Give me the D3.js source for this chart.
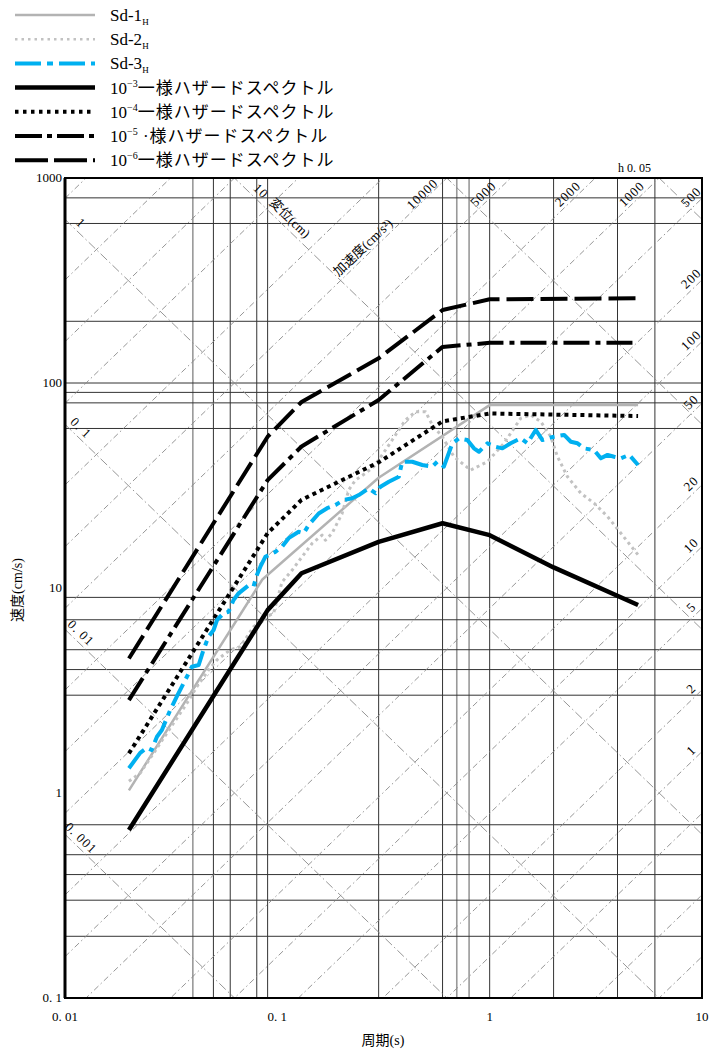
<!DOCTYPE html>
<html>
<head>
<meta charset="utf-8">
<script src="https://cdn.jsdelivr.net/npm/d3@7"></script>
<style>
    body { margin: 0; background: #fff; }
    text { font-family: "Liberation Serif", "Noto Sans CJK JP", serif; fill: #000; }
</style>
</head>
<body>
<svg id="chart" width="713" height="1050"></svg>
<script>
// axis ticks
var periodTicks = [0.01, 0.1, 1, 10],
    periodTickLabels = ["0. 01", "0. 1", "1", "10"],
    velTicks = [0.1, 1, 10, 100, 1000],
    velTickLabels = ["0. 1", "1", "10", "100", "1000"];

// grid lines of the sheet
var periodGrid = [0.05, 0.06, 0.08, 0.09, 0.3, 0.6, 1, 2, 4, 6],
    periodGridGray = [0.04, 0.7, 0.8],
    velGrid = [0.2, 0.3, 0.4, 0.5, 0.7, 3, 4, 5, 7, 9, 60, 80, 90, 100, 200, 600, 800],
    dispLines = [0.0001, 0.001, 0.01, 0.1, 1, 10, 100, 1000],
    accLines = [0.05, 0.1, 0.2, 0.5, 1, 2, 5, 10, 20, 50, 100, 200, 500, 1000, 2000, 5000,
                10000, 20000, 50000, 100000, 200000, 500000],
    dispLabels = [1, 0.1, 0.01, 0.001],
    dispLabelText = ["1", "0. 1", "0. 01", "0. 001"],
    accTopLabels = [10000, 5000, 2000, 1000],
    accRightLabels = [500, 200, 100, 50, 20, 10, 5, 2, 1];

// Sd-1H
var sd1T = [0.02, 0.085, 0.3, 1.0, 5.0],
    sd1V = [1.03, 11.0, 34.5, 78, 78];

// Sd-2H
var sd2T = [0.02, 0.0226, 0.0261, 0.0302, 0.0349, 0.0375, 0.0418, 0.0474, 0.052, 0.06, 0.0669,
            0.0773, 0.0894, 0.096, 0.1052, 0.1173, 0.1308, 0.1458, 0.1625, 0.1684, 0.1811, 0.2019,
            0.2169, 0.2333, 0.2601, 0.2847, 0.3118, 0.3475, 0.3734, 0.4017, 0.4477, 0.4991, 0.5366,
            0.5984, 0.6784, 0.8136, 0.9754, 1.168, 1.40, 1.561, 1.740, 1.940, 2.086, 2.326, 2.687,
            3.105, 3.592, 4.149, 5.0],
    sd2V = [1.14, 1.25, 1.56, 1.96, 2.45, 2.74, 3.30, 3.98, 4.46, 4.99, 5.17,
            6.48, 7.25, 7.53, 10.7, 12.2, 14.2, 16.5, 18.1, 17.1, 18.5, 23.1,
            30.1, 33.6, 36.3, 39.1, 44.6, 52.7, 59.0, 66.0, 72.4, 72.4, 62.4,
            54.7, 43.7, 37.6, 41.3, 50.8, 67.3, 69.8, 64.8, 54.7, 43.7, 34.9, 29.0,
            25.9, 22.3, 18.5, 14.5];

// Sd-3H
var sd3T = [0.02, 0.0226, 0.0243, 0.0256, 0.0271, 0.0286, 0.0313, 0.0336, 0.0375, 0.0396, 0.0426,
            0.0449, 0.0474, 0.0501, 0.052, 0.0558, 0.0589, 0.0622, 0.0657, 0.0732, 0.0773, 0.0802,
            0.0832, 0.0878, 0.0978, 0.1052, 0.113, 0.126, 0.1331, 0.1405, 0.1566, 0.1716, 0.1878,
            0.2055, 0.2251, 0.2418, 0.2696, 0.29, 0.3061, 0.335, 0.3734, 0.3874, 0.432, 0.4815,
            0.5366, 0.5667, 0.6087, 0.6671, 0.7164, 0.785, 0.8433, 0.8905, 0.9754, 1.067, 1.148,
            1.256, 1.40, 1.506, 1.648, 1.773, 1.872, 2.011, 2.242, 2.411, 2.593, 2.785, 3.105,
            3.339, 3.592, 3.857, 4.149, 4.541, 5.0],
    sd3V = [1.32, 1.57, 1.66, 1.62, 1.88, 2.03, 2.54, 2.95, 3.69, 4.13, 4.21,
            4.99, 5.79, 6.24, 6.98, 7.53, 7.66, 8.74, 9.42, 10.3, 10.2, 11.6,
            12.7, 14.2, 15.0, 15.9, 17.5, 18.8, 18.5, 20.3, 23.1, 24.5, 25.4,
            26.9, 27.4, 28.4, 30.6, 29.0, 31.2, 33.0, 34.9, 41.3, 41.3, 39.8,
            39.1, 41.3, 39.1, 50.8, 53.7, 52.7, 48.0, 46.2, 50.8, 48.9, 48.0,
            50.8, 53.7, 50.8, 59.0, 52.7, 53.7, 54.7, 55.8, 51.7, 50.8, 48.0, 47.1,
            42.9, 44.6, 43.7, 42.9, 44.6, 39.8];

// uniform hazard spectra
var haz3T = [0.02, 0.09, 0.13, 0.3, 0.6, 1.0, 2.0, 5.0],
    haz3V = [0.66, 7.8, 11.8, 16.8, 20.7, 18.1, 12.6, 8.26],
    haz4T = [0.02, 0.09, 0.13, 0.3, 0.6, 1.0, 5.0],
    haz4V = [1.56, 18.5, 26.9, 41, 65, 71, 69],
    haz5T = [0.02, 0.09, 0.13, 0.3, 0.6, 1.0, 5.0],
    haz5V = [2.84, 33.6, 49, 82.6, 150, 157, 157],
    haz6T = [0.02, 0.09, 0.13, 0.3, 0.6, 1.0, 5.0],
    haz6V = [4.53, 54.7, 80.8, 132, 227, 256, 259];

var svg = d3.select("#chart"),
    TWO_PI = 2 * Math.PI,
    x = d3.scaleLog().domain([0.01, 10]).range([65, 702]),
    y = d3.scaleLog().domain([0.1, 1000]).range([998, 178]),
    ang = Math.atan((y(1) - y(10)) / (x(1) - x(0.1))) * 180 / Math.PI;

var zip = function(ts, vs) {
    return ts.map(function(t, i) { return [t, vs[i]]; });
};

var line = d3.line()
    .x(function(d) { return x(d[0]); })
    .y(function(d) { return y(d[1]); });

svg.append("defs").append("clipPath").attr("id", "plotClip")
    .append("rect")
        .attr("x", x(0.01)).attr("y", y(1000))
        .attr("width", x(10) - x(0.01)).attr("height", y(0.1) - y(1000));

// rectangular grid
var grid = svg.append("g");

grid.selectAll(".vg").data(periodGrid).enter().append("line")
    .attr("x1", function(d) { return x(d); }).attr("x2", function(d) { return x(d); })
    .attr("y1", y(1000)).attr("y2", y(0.1))
    .attr("stroke", "#333").attr("stroke-width", 1);

grid.selectAll(".vgg").data(periodGridGray).enter().append("line")
    .attr("x1", function(d) { return x(d); }).attr("x2", function(d) { return x(d); })
    .attr("y1", y(1000)).attr("y2", y(0.1))
    .attr("stroke", "#999").attr("stroke-width", 1.6);

grid.selectAll(".hg").data(velGrid).enter().append("line")
    .attr("x1", x(0.01)).attr("x2", x(10))
    .attr("y1", function(d) { return y(d); }).attr("y2", function(d) { return y(d); })
    .attr("stroke", "#333").attr("stroke-width", 1);

// tripartite diagonals: displacement (cm) and acceleration (cm/s2)
var diag = svg.append("g").attr("clip-path", "url(#plotClip)");

diag.selectAll(".dl").data(dispLines).enter().append("path")
    .attr("d", function(D) { return line([[0.01, TWO_PI * D / 0.01], [10, TWO_PI * D / 10]]); })
    .attr("fill", "none").attr("stroke", "#8a8a8a").attr("stroke-width", 0.9)
    .attr("stroke-dasharray", "9,3,1.5,3");

diag.selectAll(".al").data(accLines).enter().append("path")
    .attr("d", function(A) { return line([[0.01, A * 0.01 / TWO_PI], [10, A * 10 / TWO_PI]]); })
    .attr("fill", "none").attr("stroke", "#8a8a8a").attr("stroke-width", 0.9)
    .attr("stroke-dasharray", "6,3,1.5,3");

// diagonal labels
var diagLabel = function(px, py, rot, txt, anchor) {
    return svg.append("text")
        .attr("transform", "translate(" + px + "," + py + ") rotate(" + rot + ")")
        .attr("text-anchor", anchor || "middle")
        .attr("dominant-baseline", "middle")
        .attr("font-size", 13)
        .attr("letter-spacing", 1)
        .text(txt);
};

var xL = 80;
dispLabels.forEach(function(D, i) {
    var t = x.invert(xL);
    diagLabel(xL, y(TWO_PI * D / t) - 10, ang, dispLabelText[i]);
});

(function() {
    var yy = 192, v = y.invert(yy), t = TWO_PI * 10 / v;
    diagLabel(x(t) + 11, yy, ang, "10");
    yy = 219; v = y.invert(yy); t = TWO_PI * 10 / v;
    diagLabel(x(t) + 12, yy, ang, "変位(cm)").attr("letter-spacing", 0);
})();

accTopLabels.forEach(function(A) {
    var yy = 193, t = TWO_PI * y.invert(yy) / A;
    diagLabel(x(t) - (A === 10000 ? 8 : 11), yy + 2, -ang, String(A));
});

(function() {
    var yy = 222, t = TWO_PI * y.invert(yy) / 10000;
    diagLabel(x(t) - 10, yy, -ang, "加速度(cm/s\u00b2)", "end").attr("letter-spacing", 0);
})();

accRightLabels.forEach(function(A) {
    var t = x.invert(692);
    diagLabel(692, y(A * t / TWO_PI) - 10, -ang, String(A));
});

// spectra
var curves = svg.append("g");

var draw = function(data, color, width, dash, cap) {
    curves.append("path")
        .datum(data)
        .attr("fill", "none")
        .attr("stroke", color)
        .attr("stroke-width", width)
        .attr("stroke-dasharray", dash)
        .attr("stroke-linejoin", "round")
        .attr("stroke-linecap", cap || "butt")
        .attr("d", line);
};

draw(zip(sd1T, sd1V), "#b3b3b3", 2.5, null);
draw(zip(sd2T, sd2V), "#c2c2c2", 3, "3,3.5");
draw(zip(haz3T, haz3V), "#000", 4.5, null);
draw(zip(haz4T, haz4V), "#000", 4, "4,4");
draw(zip(haz5T, haz5V), "#000", 4, "26,6,5,6");
draw(zip(haz6T, haz6V), "#000", 4, "27,7");
draw(zip(sd3T, sd3V), "#00b0f0", 4, "24,6,5,6");

// frame
svg.append("rect")
    .attr("x", x(0.01)).attr("y", y(1000))
    .attr("width", x(10) - x(0.01)).attr("height", y(0.1) - y(1000))
    .attr("fill", "none").attr("stroke", "#000").attr("stroke-width", 2);
svg.append("line")
    .attr("x1", x(0.01)).attr("x2", x(0.01)).attr("y1", y(1000)).attr("y2", y(0.1))
    .attr("stroke", "#000").attr("stroke-width", 3);

// ticks
svg.selectAll(".xt").data(periodTicks).enter().append("text")
    .attr("x", function(d) { return x(d); })
    .attr("y", 1021)
    .attr("text-anchor", "middle")
    .attr("font-size", 13)
    .text(function(d, i) { return periodTickLabels[i]; });

svg.selectAll(".yt").data(velTicks).enter().append("text")
    .attr("x", 62)
    .attr("y", function(d) { return y(d) + 4; })
    .attr("text-anchor", "end")
    .attr("font-size", 13)
    .text(function(d, i) { return velTickLabels[i]; });

svg.append("text")
    .attr("x", 383).attr("y", 1045)
    .attr("text-anchor", "middle").attr("font-size", 14)
    .text("周期(s)");

svg.append("text")
    .attr("transform", "translate(22,590) rotate(-90)")
    .attr("text-anchor", "middle").attr("font-size", 14)
    .text("速度(cm/s)");

svg.append("text")
    .attr("x", 618).attr("y", 172)
    .attr("font-size", 12)
    .text("h 0. 05");

// legend
var legendItems = [
    {name: "Sd-1", sub: "H", color: "#b3b3b3", width: 2.5, dash: null},
    {name: "Sd-2", sub: "H", color: "#c2c2c2", width: 2.5, dash: "2.5,4"},
    {name: "Sd-3", sub: "H", color: "#00b0f0", width: 4, dash: "26,6,6,6"},
    {exp: "-3", rest: "一様ハザードスペクトル", color: "#000", width: 4.5, dash: null},
    {exp: "-4", rest: "一様ハザードスペクトル", color: "#000", width: 4, dash: "3.5,4.5"},
    {exp: "-5", rest: " ·様ハザードスペクトル", color: "#000", width: 4, dash: "27,5,5,5"},
    {exp: "-6", rest: "一様ハザードスペクトル", color: "#000", width: 4, dash: "33,6"}
];

var legend = svg.append("g");
legendItems.forEach(function(it, i) {
    var ly = 15 + i * 24.2;
    legend.append("line")
        .attr("x1", 15).attr("x2", 95).attr("y1", ly).attr("y2", ly)
        .attr("stroke", it.color).attr("stroke-width", it.width)
        .attr("stroke-dasharray", it.dash);
    var t = legend.append("text").attr("x", 110).attr("y", ly + 6).attr("font-size", 17);
    if (it.name) {
        t.append("tspan").text(it.name);
        t.append("tspan").attr("font-size", 9).attr("dy", 4).text(it.sub);
    } else {
        t.append("tspan").text("10");
        t.append("tspan").attr("font-size", 10).attr("dy", -7).text(it.exp.replace("-", "\u2212"));
        t.append("tspan").attr("dy", 7).attr("letter-spacing", 1).text(it.rest);
    }
});
</script>
</body>
</html>
